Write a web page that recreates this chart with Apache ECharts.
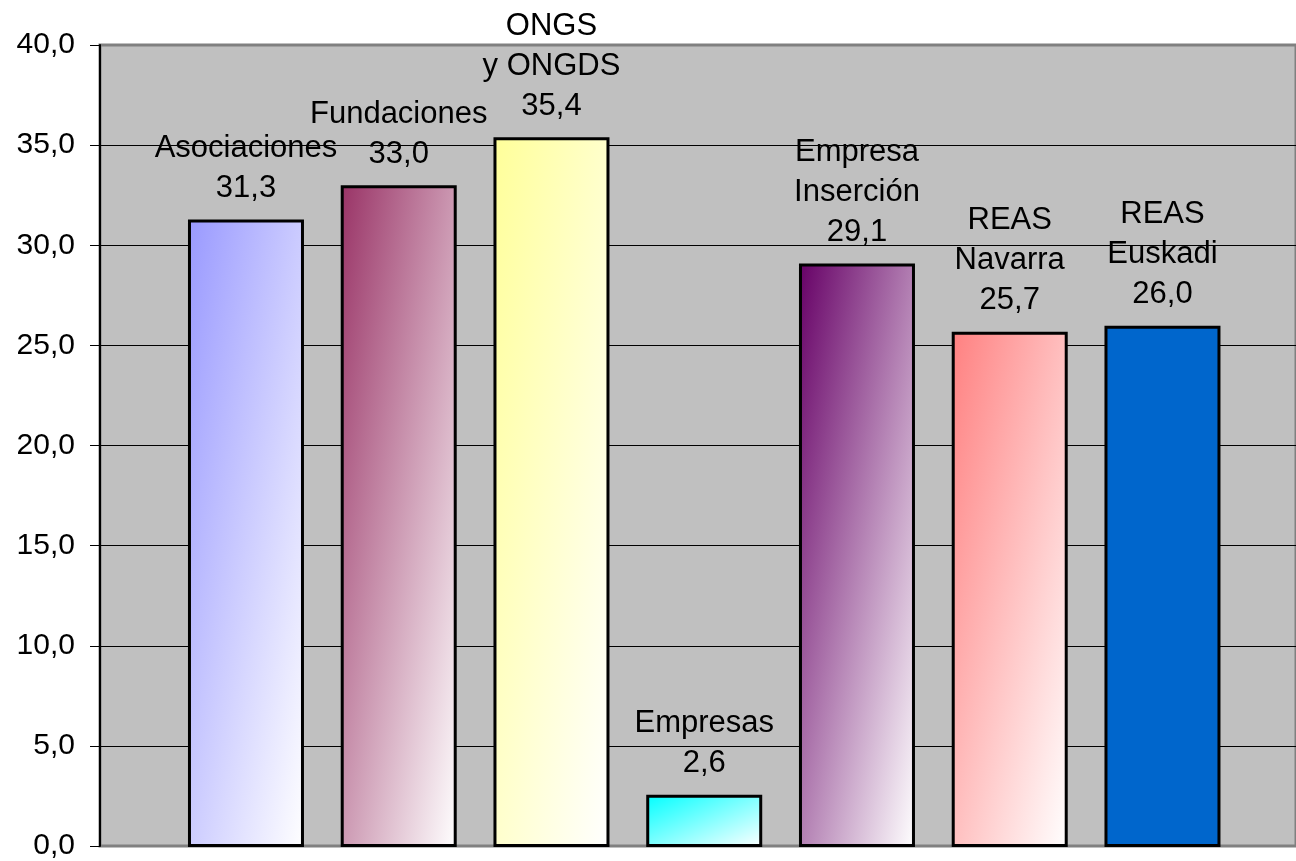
<!DOCTYPE html>
<html>
<head>
<meta charset="utf-8">
<script src="https://cdn.jsdelivr.net/npm/echarts@6/dist/echarts.min.js"></script>
<style>html,body{margin:0;padding:0;background:#fff;}#c{width:1296px;height:861px;}</style>
</head>
<body>
<div id="c"></div>
<script>
const categories = ['Asociaciones', 'Fundaciones', 'ONGS\ny ONGDS', 'Empresas', 'Empresa\nInserción', 'REAS\nNavarra', 'REAS\nEuskadi'];
const values = [31.3, 33.0, 35.4, 2.6, 29.1, 25.7, 26.0];
const yMin = 0, yMax = 40, yStep = 5;

const barColors = ['#9999FF', '#993366', '#FFFF99', '#00FFFF', '#660066', '#FF8080', null];
const solidColor = '#0066CC';

const TOP = 45, BOTTOM = 14, H = 861;
const plotH = H - TOP - BOTTOM;
const BAR_W = 116;

function fmt(v) { return v.toFixed(1).replace('.', ','); }

function fillFor(i, v) {
  const c = barColors[i];
  if (!c) return solidColor;
  const w = BAR_W, h = v / (yMax - yMin) * plotH;
  const s = w * w + h * h;
  const x2 = 2 * h * h / s, y2 = 2 * w * w / s;
  return new echarts.graphic.LinearGradient(0, 0, x2, y2, [
    { offset: 0, color: c },
    { offset: 1, color: '#FFFFFF' }
  ]);
}

const chart = echarts.init(document.getElementById('c'), null, { renderer: 'canvas' });
const fontFamily = 'Liberation Sans, Arial, sans-serif';

chart.setOption({
  animation: false,
  backgroundColor: '#FFFFFF',
  grid: [
    { left: 100, right: -6, top: TOP, bottom: BOTTOM, show: true, backgroundColor: '#C0C0C0', borderColor: '#808080', borderWidth: 3, containLabel: false },
    { left: 169.6, width: 1069.25, top: TOP, bottom: BOTTOM, containLabel: false }
  ],
  xAxis: [
    { gridIndex: 0, type: 'category', data: [''], show: false },
    { gridIndex: 1, type: 'category', data: categories, show: false }
  ],
  yAxis: [
    {
      gridIndex: 0, type: 'value', min: yMin, max: yMax, interval: yStep,
      axisLine: { show: true, lineStyle: { color: '#000', width: 2 } },
      axisTick: { show: true, length: 10, lineStyle: { color: '#000', width: 1 } },
      axisLabel: { margin: 25, formatter: fmt, fontFamily: fontFamily, fontSize: 30, color: '#000' },
      splitLine: { show: true, showMinLine: false, showMaxLine: false, lineStyle: { color: '#000', width: 1 } }
    },
    { gridIndex: 1, type: 'value', min: yMin, max: yMax, interval: yStep, show: false, splitLine: { show: false } }
  ],
  series: [{
    type: 'bar',
    xAxisIndex: 1,
    yAxisIndex: 1,
    barWidth: BAR_W,
    data: values.map((v, i) => ({
      value: v,
      itemStyle: { color: fillFor(i, v), borderColor: '#000', borderWidth: 3 }
    })),
    label: {
      show: true,
      position: 'top',
      distance: 11,
      lineHeight: 40,
      align: 'center',
      fontFamily: fontFamily,
      fontSize: 31,
      color: '#000',
      formatter: p => p.name + '\n' + fmt(p.value)
    }
  }]
});
</script>
</body>
</html>
